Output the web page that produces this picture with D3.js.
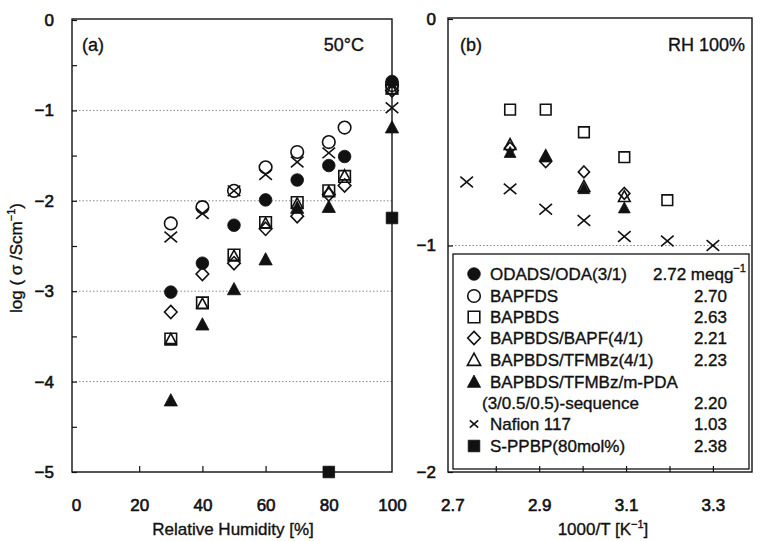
<!DOCTYPE html>
<html>
<head>
<meta charset="utf-8">
<script src="https://cdn.jsdelivr.net/npm/d3@7"></script>
<style>
  body { margin: 0; background: #fff; }
  svg { font-family: "Liberation Sans", Arial, sans-serif; }
  svg text { fill: #111; stroke: #111; stroke-width: 0.35px; }
  .axis text { font-size: 17px; stroke-width: 0.6px; }
  .axis line { stroke: #111; stroke-width: 1.2; }
</style>
</head>
<body>
<script>
// panel (a): 50 C, log(sigma) vs relative humidity
var rh = [30, 40, 50, 60, 70, 80, 85, 100];
var odads   = [-3.01, -2.69, -2.27, -1.99, -1.77, -1.61, -1.51, -0.68];
var bapfds  = [-2.25, -2.07, -1.89, -1.63, -1.46, -1.35, -1.19, -0.72];
var bapbds  = [-3.53, -3.13, -2.60, -2.24, -2.02, -1.89, -1.73, -0.75];
var bapf41  = [-3.23, -2.81, -2.69, -2.31, -2.17, -1.93, -1.83, -0.78];
var tfmbz41 = [-3.53, -3.14, -2.61, -2.25, -2.03, -1.90, -1.72, -0.77];
var rhSeq = [30, 40, 50, 60, 70, 80, 100];
var seqA  = [-4.21, -3.37, -2.98, -2.65, -2.08, -2.07, -1.19];
var rhNaf = [30, 40, 50, 60, 70, 80, 100];
var nafA  = [-2.40, -2.14, -1.89, -1.71, -1.57, -1.47, -0.97];
var rhPP  = [80, 100];
var ppbpA = [-5.0, -2.19];

// panel (b): RH 100 %, log(sigma) vs 1000/T
var tB  = [2.833, 2.915, 3.003, 3.096, 3.195];
var bapbdsB = [-0.40, -0.40, -0.50, -0.61, -0.80];
var tB4 = [2.833, 2.915, 3.003, 3.096];
var bapf41B  = [-0.57, -0.63, -0.675, -0.77];
var tfmbz41B = [-0.555, -0.605, -0.74, -0.785];
var seqB     = [-0.59, -0.61, -0.75, -0.835];
var tNaf = [2.733, 2.833, 2.915, 3.003, 3.096, 3.195, 3.300];
var nafB = [-0.72, -0.75, -0.84, -0.89, -0.96, -0.98, -1.00];

// legend
var legNames = ['ODADS/ODA(3/1)', 'BAPFDS', 'BAPBDS', 'BAPBDS/BAPF(4/1)', 'BAPBDS/TFMBz(4/1)',
  'BAPBDS/TFMBz/m-PDA', 'Nafion 117', 'S-PPBP(80mol%)'];
var legIec = ['2.72', '2.70', '2.63', '2.21', '2.23', '2.20', '1.03', '2.38'];
var legShapes = ['dot', 'circle', 'square', 'diamond', 'triangle', 'tri', 'x', 'sq'];

var xTicksA = [0, 20, 40, 60, 80, 100];
var yTicksA = d3.range(-5, 0.01, 0.5);
var xTicksB = [2.7, 2.8, 2.9, 3.0, 3.1, 3.2, 3.3];
var xLabelsB = [2.7, 2.9, 3.1, 3.3];
var yTicksB = [-2, -1, 0];

var W = 760, H = 541;
var svg = d3.select('body').append('svg').attr('width', W).attr('height', H);

var xA = d3.scaleLinear().domain([0, 100]).range([76, 392]);
var yA = d3.scaleLinear().domain([-5, 0]).range([472, 20]);
var xB = d3.scaleLinear().domain([2.69, 3.39]).range([448, 752]);
var yB = d3.scaleLinear().domain([-2, 0]).range([472, 19]);

// marker shapes
function shape(type, size) {
  var r = size || 6.3;
  var p = d3.path();
  if (type == 'dot' || type == 'circle') {
    p.arc(0, 0, r, 0, 2 * Math.PI); p.closePath();
  } else if (type == 'square' || type == 'sq') {
    p.rect(-r * 0.92, -r * 0.92, r * 1.84, r * 1.84);
  } else if (type == 'diamond') {
    p.moveTo(0, -r * 1.05); p.lineTo(r, 0); p.lineTo(0, r * 1.05); p.lineTo(-r, 0); p.closePath();
  } else if (type == 'triangle' || type == 'tri') {
    p.moveTo(0, -r * 1.1); p.lineTo(r * 1.05, r * 0.85); p.lineTo(-r * 1.05, r * 0.85); p.closePath();
  } else if (type == 'x') {
    p.moveTo(-r, -r * 0.85); p.lineTo(r, r * 0.85); p.moveTo(r, -r * 0.85); p.lineTo(-r, r * 0.85);
  }
  return p.toString();
}
function filled(type) { return type == 'dot' || type == 'tri' || type == 'sq'; }

function plotSeries(g, xs, ys, type, sx, sy, size) {
  g.append('g').selectAll('path').data(xs).enter().append('path')
    .attr('transform', function (d, i) { return 'translate(' + sx(d) + ',' + sy(ys[i]) + ')'; })
    .attr('d', shape(type, size))
    .attr('fill', filled(type) ? '#111' : 'none')
    .attr('stroke', '#111')
    .attr('stroke-width', filled(type) ? 0.8 : 1.6);
}

// ---------- panel (a) ----------
var ga = svg.append('g');
ga.selectAll('line.grid').data([-1, -2, -3, -4]).enter().append('line')
  .attr('x1', 72).attr('x2', 392).attr('y1', function (d) { return yA(d); }).attr('y2', function (d) { return yA(d); })
  .attr('stroke', '#888').attr('stroke-width', 1).attr('stroke-dasharray', '1.5,2');

var axAy = ga.append('g').attr('class', 'axis').attr('transform', 'translate(72,0)')
  .call(d3.axisLeft(yA).tickValues(yTicksA).tickSizeInner(-5).tickSizeOuter(0).tickPadding(18)
    .tickFormat(function (d) { return Number.isInteger(d) ? d3.format('d')(d).replace('-', '\u2212') : ''; }));
axAy.select('.domain').remove();

var axAx = ga.append('g').attr('class', 'axis').attr('transform', 'translate(0,472)')
  .call(d3.axisBottom(xA).tickValues(xTicksA).tickSizeInner(-6).tickSizeOuter(0).tickPadding(27));
axAx.select('.domain').remove();
axAx.selectAll('.tick line').filter(function (d) { return d == 0 || d == 100; }).remove();

ga.append('rect').attr('x', 72).attr('y', 19).attr('width', 320).attr('height', 453)
  .attr('fill', 'none').attr('stroke', '#111').attr('stroke-width', 1.4);

plotSeries(ga, rh, bapf41, 'diamond', xA, yA);
plotSeries(ga, rh, bapbds, 'square', xA, yA);
plotSeries(ga, rh, tfmbz41, 'triangle', xA, yA, 5.2);
plotSeries(ga, rh, bapfds, 'circle', xA, yA);
plotSeries(ga, rhNaf, nafA, 'x', xA, yA);
plotSeries(ga, rh, odads, 'dot', xA, yA);
plotSeries(ga, rhSeq, seqA, 'tri', xA, yA);
plotSeries(ga, rhPP, ppbpA, 'sq', xA, yA);

ga.append('text').attr('x', 82).attr('y', 51).attr('font-size', 18).text('(a)');
ga.append('text').attr('x', 364).attr('y', 51).attr('font-size', 18).attr('text-anchor', 'end').text('50\u00b0C');
ga.append('text').attr('x', 233).attr('y', 535).attr('font-size', 17).attr('text-anchor', 'middle')
  .text('Relative Humidity [%]');

var ylab = svg.append('text').attr('transform', 'translate(22,258) rotate(-90)')
  .attr('text-anchor', 'middle').attr('font-size', 17);
ylab.append('tspan').text('log ( \u03c3 /Scm');
ylab.append('tspan').attr('font-size', 11).attr('dy', -7).text('\u22121');
ylab.append('tspan').attr('dy', 7).text(')');

// ---------- panel (b) ----------
var gb = svg.append('g');
gb.append('line').attr('x1', 448).attr('x2', 752).attr('y1', yB(-1)).attr('y2', yB(-1))
  .attr('stroke', '#888').attr('stroke-width', 1).attr('stroke-dasharray', '1.5,2');

var axBy = gb.append('g').attr('class', 'axis').attr('transform', 'translate(448,0)')
  .call(d3.axisLeft(yB).tickValues(yTicksB).tickSizeInner(-5).tickSizeOuter(0).tickPadding(12)
    .tickFormat(function (d) { return d3.format('d')(d).replace('-', '\u2212'); }));
axBy.select('.domain').remove();

plotSeries(gb, tB4, bapf41B, 'diamond', xB, yB, 5.6);
plotSeries(gb, tB, bapbdsB, 'square', xB, yB, 5.8);
plotSeries(gb, tB4, tfmbz41B, 'triangle', xB, yB, 5.6);
plotSeries(gb, tNaf, nafB, 'x', xB, yB);
plotSeries(gb, tB4, seqB, 'tri', xB, yB, 5.6);

// legend box
var lg = gb.append('g');
lg.append('rect').attr('x', 453).attr('y', 254).attr('width', 296).attr('height', 215)
  .attr('fill', '#fff').attr('stroke', '#111').attr('stroke-width', 1.3);
var rowY = [274, 296, 317, 338, 360, 382, 424, 446];
legNames.forEach(function (name, i) {
  var s = legShapes[i];
  lg.append('path').attr('transform', 'translate(474,' + rowY[i] + ')')
    .attr('d', shape(s, s == 'x' ? 4.2 : 6.3))
    .attr('fill', filled(s) ? '#111' : 'none').attr('stroke', '#111')
    .attr('stroke-width', filled(s) ? 0.8 : 1.6);
  lg.append('text').attr('x', 490).attr('y', rowY[i] + 6).attr('font-size', 17).text(name);
  if (i == 0) {
    var t = lg.append('text').attr('x', 653).attr('y', rowY[i] + 6).attr('font-size', 17);
    t.append('tspan').text(legIec[i] + ' meqg');
    t.append('tspan').attr('font-size', 11).attr('dy', -8).text('\u22121');
  } else {
    var yy = i == 5 ? 403 : rowY[i];
    lg.append('text').attr('x', 727).attr('y', yy + 6).attr('font-size', 17).attr('text-anchor', 'end').text(legIec[i]);
  }
});
lg.append('text').attr('x', 482).attr('y', 409).attr('font-size', 17).text('(3/0.5/0.5)-sequence');

var axBx = gb.append('g').attr('class', 'axis').attr('transform', 'translate(0,472)')
  .call(d3.axisBottom(xB).tickValues(xTicksB).tickSizeInner(-6).tickSizeOuter(0).tickPadding(27)
    .tickFormat(function (d) { return xLabelsB.some(function (v) { return Math.abs(v - d) < 1e-6; }) ? d3.format('.1f')(d) : ''; }));
axBx.select('.domain').remove();
axBx.selectAll('.tick line').filter(function (d) { return d < 2.75; }).remove();

gb.append('rect').attr('x', 448).attr('y', 18).attr('width', 304).attr('height', 454)
  .attr('fill', 'none').attr('stroke', '#111').attr('stroke-width', 1.4);

gb.append('text').attr('x', 460).attr('y', 51).attr('font-size', 18).text('(b)');
gb.append('text').attr('x', 745).attr('y', 51).attr('font-size', 18).attr('text-anchor', 'end').text('RH 100%');
var xlb = gb.append('text').attr('x', 603).attr('y', 535).attr('font-size', 17).attr('text-anchor', 'middle');
xlb.append('tspan').text('1000/T [K');
xlb.append('tspan').attr('font-size', 11).attr('dy', -7).text('\u22121');
xlb.append('tspan').attr('dy', 7).text(']');
</script>
</body>
</html>
